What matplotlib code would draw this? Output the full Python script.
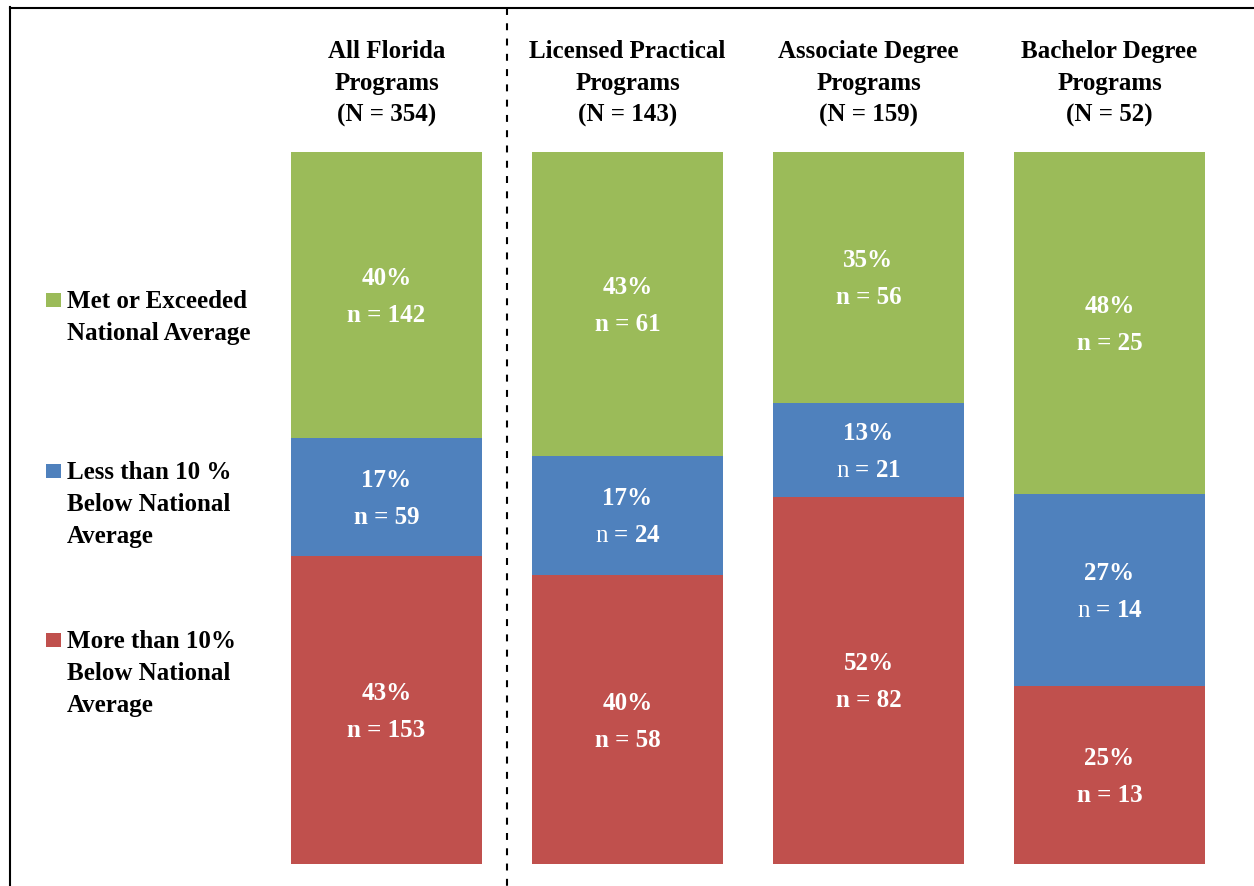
import matplotlib.pyplot as plt
from matplotlib.patches import Rectangle
from matplotlib.lines import Line2D

plt.rcParams['font.family'] = ['Liberation Serif', 'DejaVu Serif']
plt.rcParams['mathtext.fontset'] = 'custom'
plt.rcParams['mathtext.rm'] = 'Liberation Serif'
plt.rcParams['lines.scale_dashes'] = False

# data
programs = ["All Florida\nPrograms", "Licensed Practical\nPrograms",
            "Associate Degree\nPrograms", "Bachelor Degree\nPrograms"]
totals = [354, 143, 159, 52]
categories = ["More than 10%\nBelow National\nAverage",
              "Less than 10 %\nBelow National\nAverage",
              "Met or Exceeded\nNational Average"]
colors = ["#C0504D", "#4F81BD", "#9BBB59"]
more_than_10 = [153, 58, 82, 13]
less_than_10 = [59, 24, 21, 14]
met_or_exceeded = [142, 61, 56, 25]
pct_more = [43, 40, 52, 25]
pct_less = [17, 17, 13, 27]
pct_met = [40, 43, 35, 48]
plain_n = {(1, 1), (2, 1), (3, 1)}  # (program, category) where "n" is not bold

counts = [more_than_10, less_than_10, met_or_exceeded]
pcts = [pct_more, pct_less, pct_met]

W, H = 1254, 886
fig = plt.figure(figsize=(W / 100, H / 100), dpi=100)
fig.patch.set_facecolor("white")

# axes placed so bars land at the same pixels as the reference
bar_top, bar_bot = 152, 864
ax = fig.add_axes([0, (H - bar_bot) / H, 1, (bar_bot - bar_top) / H])
step = 241
ax.set_xlim(-386.5 / step, 3 + (W - 1109.5) / step)
ax.set_ylim(0, 1)
ax.axis("off")

x = list(range(len(programs)))
bottoms = [0.0] * len(programs)
for c, (vals, pc) in enumerate(zip(counts, pcts)):
    h = [v / t for v, t in zip(vals, totals)]
    ax.bar(x, h, width=191 / step, bottom=bottoms, color=colors[c], linewidth=0)
    for i in x:
        yc = bottoms[i] + h[i] / 2
        ax.annotate(f"{pc[i]}%", xy=(i, yc), xytext=(0, 10), textcoords="offset pixels",
                    ha="center", va="baseline", color="white", fontsize=18, fontweight="bold")
        if (i, c) in plain_n:
            lab = r"$\mathrm{n}$" + f" = {vals[i]}"
        else:
            lab = f"n = {vals[i]}"
        ax.annotate(lab, xy=(i, yc), xytext=(0, -27), textcoords="offset pixels",
                    ha="center", va="baseline", color="white", fontsize=18, fontweight="bold")
    bottoms = [b + hh for b, hh in zip(bottoms, h)]

# column headers
for i, (name, n) in enumerate(zip(programs, totals)):
    lines = name.split("\n") + [f"(N = {n})"]
    for k, line in enumerate(lines):
        ax.annotate(line, xy=(i, 1), xytext=(0, 94 - 32 * k), textcoords="offset pixels",
                    ha="center", va="baseline", fontsize=18, fontweight="bold",
                    annotation_clip=False)

# legend (left side)
def fx(px):
    return px / W

def fy(py):
    return 1 - py / H

legend_base = [648, 479, 308]
for c in range(len(categories)):
    b = legend_base[c]
    fig.patches.append(Rectangle((fx(46), fy(b - 1)), 15 / W, 14 / H,
                                 transform=fig.transFigure, color=colors[c], linewidth=0))
    for k, line in enumerate(categories[c].split("\n")):
        fig.text(fx(67), fy(b + 32 * k), line, ha="left", va="baseline",
                 fontsize=18, fontweight="bold")

# frame and divider
fig.add_artist(Line2D([fx(10), 1], [fy(7.5), fy(7.5)], transform=fig.transFigure,
                      color="black", lw=1.5))
fig.add_artist(Line2D([fx(10), fx(10)], [fy(7), 0], transform=fig.transFigure,
                      color="black", lw=1.5))
fig.add_artist(Line2D([fx(507), fx(507)], [fy(8), 0], transform=fig.transFigure,
                      color="black", lw=1.5, linestyle=(0, (5, 6))))

fig.savefig("out.png", dpi=100)
